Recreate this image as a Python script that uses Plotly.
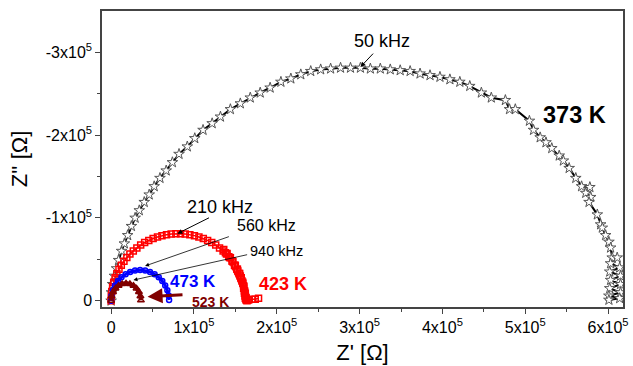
import plotly.graph_objects as go

# ---- data (kOhm) ----
k373_zre = [0, 0.5, 1.8, 4, 6.6, 9, 12.6, 16, 20, 24.5, 29, 34, 40, 46, 52, 59, 66.5, 74, 82, 92, 101, 111,
            122, 132, 144, 156, 168, 180, 192, 205, 217, 229, 241, 253, 265, 277, 289, 301, 313, 325, 337,
            349, 361, 373, 385, 397, 409, 421, 433, 447, 459, 476, 481, 488, 505, 510, 518, 525, 532, 541,
            546, 553, 561, 568, 578, 573, 579, 577, 587, 591, 593, 597, 601, 603, 605, 611, 603, 614, 602,
            615, 603, 615, 602, 615, 601, 614, 601]
k373_zim = [0, -10, -20, -30, -39, -49, -60, -69, -79, -90, -100, -109, -119, -128, -138, -148, -157, -167,
            -177, -186, -196, -206, -214, -222, -231, -238, -245, -251, -257, -264, -268, -273, -277, -279,
            -280, -281, -281, -281, -280, -280, -279, -278, -277, -274, -272, -270, -267, -264, -259, -251,
            -245, -242, -231, -231, -217, -206, -197, -191, -184, -175, -169, -160, -148, -138, -137, -130,
            -125, -119, -104, -92, -88, -79, -71, -64, -52, -52, -45, -40, -35, -30, -25, -20, -15, -10, -6,
            -3, -1]

k423_zre = [0, 0.2, 0.8, 1.8, 3.1, 4.9, 7.0, 9.5, 12.3, 15.5, 19.0, 22.7, 26.8, 31.1, 35.7, 40.5, 45.5,
            50.7, 56.0, 61.4, 66.9, 72.5, 78.2, 83.8, 89.5, 95.1, 100.6, 106.0, 111.3, 116.5, 121.5, 126.3,
            130.9, 135.2, 139.3, 143.1, 146.5, 149.7, 152.5, 155.0, 157.1, 158.9, 160.2, 161.2, 161.8,
            136, 140, 144, 147, 150, 153, 156, 158, 160, 161, 162, 163, 163, 164,
            138, 142, 146, 149, 152, 155, 157, 159, 160, 161, 162,
            162, 163, 164, 166, 170, 174, 178]
k423_zim = [0, -5.7, -11.3, -16.8, -22.3, -27.7, -33.0, -38.0, -42.9, -47.6, -52.1, -56.3, -60.2, -63.8,
            -67.2, -70.2, -72.8, -75.1, -77.0, -78.6, -79.8, -80.6, -81.0, -81.0, -80.6, -79.8, -78.6,
            -77.0, -75.1, -72.8, -70.2, -67.2, -63.8, -60.2, -56.3, -52.1, -47.6, -42.9, -38.0, -33.0,
            -27.7, -22.3, -16.8, -11.3, -5.7,
            -62, -57, -52, -47, -42, -36, -30, -24, -18, -12, -6, -2, -1, 0,
            -58, -53, -48, -43, -38, -33, -27, -21, -15, -9, -3,
            -9, -4, -1, -1, -2, -2, -3]

k473_zre = [0, 0.5, 2.1, 4.7, 8.2, 12.5, 17.5, 23, 28.9, 35, 41.1, 47, 52.5, 57.5, 61.8, 65.3, 67.9,
            69.5, 70]
k473_zim = [0, -6.4, -12.7, -18.5, -23.8, -28.3, -32, -34.8, -36.4, -37, -36.4, -34.8, -32, -28.3,
            -23.8, -18.5, -12.7, -6.4, -1]

k523_zre = [0, 0.6, 2.4, 5.3, 9, 13.3, 18, 22.7, 27, 30.7, 33.6, 35.4, 36]
k523_zim = [0, -5.4, -10.5, -14.8, -18.2, -20.3, -21, -20.3, -18.2, -14.8, -10.5, -5.4, -0.5]

x_tick_vals = [0, 1e5, 2e5, 3e5, 4e5, 5e5, 6e5]
x_tick_text = ["0", "1x10<sup>5</sup>", "2x10<sup>5</sup>", "3x10<sup>5</sup>",
               "4x10<sup>5</sup>", "5x10<sup>5</sup>", "6x10<sup>5</sup>"]
y_tick_vals = [0, -1e5, -2e5, -3e5]
y_tick_text = ["0", "-1x10<sup>5</sup>", "-2x10<sup>5</sup>", "-3x10<sup>5</sup>"]


def ohm(a):
    return [v * 1e3 for v in a]


FONT = "Liberation Sans, Arial, sans-serif"
MAROON = "#800000"

fig = go.Figure()
fig.add_trace(go.Scatter(x=ohm(k373_zre), y=ohm(k373_zim), mode="lines+markers",
                         line=dict(color="black", width=2),
                         marker=dict(symbol="star", size=8, color="white",
                                     line=dict(color="#555", width=1))))
fig.add_trace(go.Scatter(x=ohm(k423_zre), y=ohm(k423_zim), mode="lines+markers",
                         line=dict(color="#ff0000", width=1.5),
                         marker=dict(symbol="square-open", size=6, color="#ff0000",
                                     line=dict(width=1.5))))
fig.add_trace(go.Scatter(x=ohm(k473_zre), y=ohm(k473_zim), mode="lines+markers",
                         line=dict(color="#0000ff", width=3),
                         marker=dict(symbol="circle-open", size=5, color="#0000ff",
                                     line=dict(width=1.5))))
fig.add_trace(go.Scatter(x=ohm(k523_zre), y=ohm(k523_zim), mode="lines+markers",
                         line=dict(color=MAROON, width=4),
                         marker=dict(symbol="triangle-up-open", size=6, color=MAROON,
                                     line=dict(width=1.5))))


def arrow(x, y, ax, ay, color="black", width=1, size=1):
    fig.add_annotation(x=x, y=y, ax=ax, ay=ay, xref="x", yref="y", axref="x", ayref="y",
                       text="", showarrow=True, arrowhead=2, arrowsize=size,
                       arrowwidth=width, arrowcolor=color)


def label(x, y, text, size, color="black", bold=False):
    t = f"<b>{text}</b>" if bold else text
    fig.add_annotation(x=x, y=y, xref="x", yref="y", text=t, showarrow=False,
                       borderpad=0,
                       font=dict(family=FONT, size=size, color=color))


arrow(301000, -282000, 318000, -300000)
label(327000, -314000, "50 kHz", 18)
arrow(80000, -81000, 120000, -101000)
label(132000, -113000, "210 kHz", 18)
arrow(41000, -42000, 144000, -78000, width=0.8)
label(187000, -91000, "560 kHz", 16)
arrow(27000, -25000, 166000, -56000, width=0.8)
label(200000, -60000, "940 kHz", 14.5)
arrow(44000, -5000, 88000, -7500, color=MAROON, width=3, size=1)

label(560000, -224000, "373 K", 23.5, bold=True)
label(207000, -20000, "423 K", 18, color="#ff0000", bold=True)
label(99000, -23500, "473 K", 17, color="#0000ff", bold=True)
label(120000, 1000, "523 K", 14, color=MAROON, bold=True)

axis_common = dict(showline=True, linecolor="#444", linewidth=1.5, mirror=True,
                   ticks="outside", ticklen=5, tickwidth=1.2, tickcolor="#444",
                   showgrid=False, zeroline=False,
                   tickfont=dict(family=FONT, size=16, color="black"))

fig.update_xaxes(range=[-11000, 618000], tickmode="array", tickvals=x_tick_vals,
                 ticktext=x_tick_text,
                 minor=dict(tickvals=[5e4, 1.5e5, 2.5e5, 3.5e5, 4.5e5, 5.5e5], ticklen=3,
                            tickcolor="#444", ticks="outside"),
                 title=dict(text="Z' [Ω]", font=dict(family=FONT, size=22, color="black"),
                            standoff=10),
                 **axis_common)
fig.update_yaxes(range=[7500, -349600], tickmode="array", tickvals=y_tick_vals,
                 ticktext=y_tick_text,
                 minor=dict(tickvals=[-5e4, -1.5e5, -2.5e5], ticklen=3,
                            tickcolor="#444", ticks="outside"),
                 title=dict(text="Z'' [Ω]", font=dict(family=FONT, size=22, color="black"),
                            standoff=12),
                 **axis_common)

fig.update_layout(width=633, height=366, margin=dict(l=102, r=5, t=11, b=59),
                  paper_bgcolor="white", plot_bgcolor="white", showlegend=False,
                  font=dict(family=FONT))

fig.write_html("out.html")
